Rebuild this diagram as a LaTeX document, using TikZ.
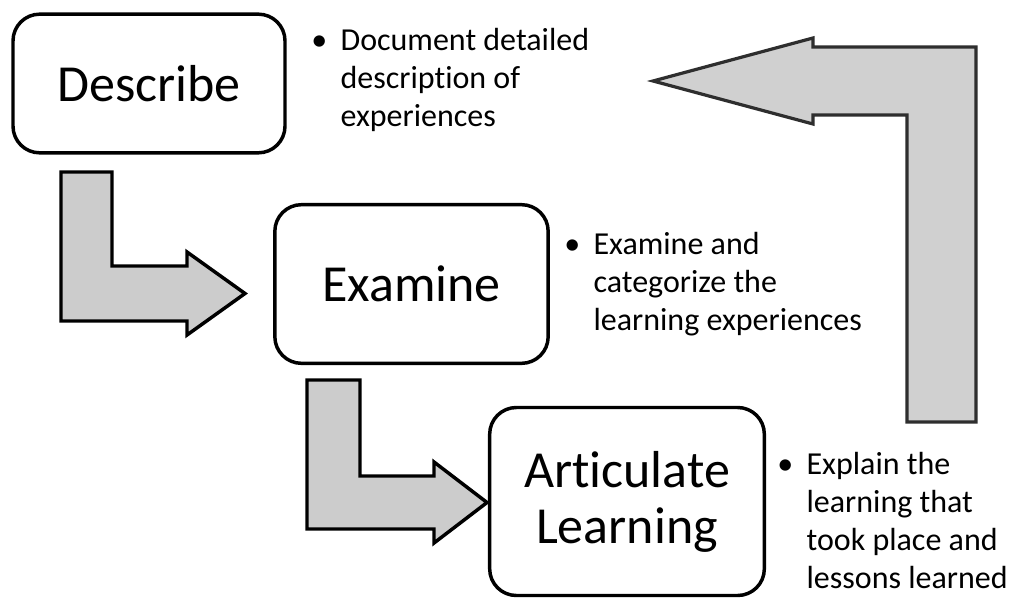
\documentclass[tikz,border=0pt]{standalone}
\usepackage{fontspec}
\setmainfont{Carlito}[Ligatures=NoCommon]
\usepackage{tikz}

\definecolor{bendfill}{HTML}{CCCCCC}
\definecolor{loopfill}{HTML}{D0D0D0}
\definecolor{loopline}{HTML}{2E2E2E}

\newlength{\notehang}
\setlength{\notehang}{22pt}
\newcommand{\notebullet}{\makebox[\notehang][l]{\textbullet}}
\newcommand{\noteskip}{\hspace*{\notehang}}

\tikzset{
  stage/.style={draw=black, line width=2.6pt, rounded corners=20pt, fill=white,
    align=center, inner sep=0pt, font=\fontsize{39}{42}\selectfont},
  % base anchor sits on the last line
  note/.style={align=left, inner sep=0pt, anchor=base west,
    font=\fontsize{24}{28.5}\selectfont},
  bentarrow/.style={draw=black, line width=2.6pt, fill=bendfill},
  loopback/.style={draw=loopline, line width=2.4pt, fill=loopfill}
}

\begin{document}
\begin{tikzpicture}[x=0.75pt,y=-0.75pt]
\useasboundingbox[fill=white] (0,0) rectangle (1012,599);
% Drawing the bent arrows
% Arrow 1: describe -> examine
\draw[bentarrow] (61,172) -- (112,172) -- (112,266) -- (187,266) -- (187,252)
  -- (245,293.5) -- (187,335) -- (187,321) -- (61,321) -- cycle;
% Arrow 2: examine -> articulate
\draw[bentarrow] (307,380) -- (360,380) -- (360,476) -- (434,476) -- (434,462)
  -- (487,502.5) -- (434,543) -- (434,529) -- (307,529) -- cycle;
% Arrow 3: back up to describe
\draw[loopback] (976,422) -- (976,47) -- (813,47) -- (813,38)
  -- (653,81) -- (813,124) -- (813,115) -- (907,115) -- (907,422) -- cycle;
% Done with arrows; drawing stages
\node[stage, minimum width=204pt, minimum height=104pt] (describe) at (149,83.5) {Describe};
\node[stage, minimum width=205pt, minimum height=119pt] (examine) at (411.5,284) {Examine};
\node[stage, minimum width=206pt, minimum height=141pt] (articulate) at (627,501.5) {Articulate\\Learning};
% Done with stages; drawing notes
\node[note] (describe note) at (311,127)
  {\notebullet Document detailed\\\noteskip description of\\\noteskip experiences};
\node[note] (examine note) at (564,330)
  {\notebullet Examine and\\\noteskip categorize the\\\noteskip learning experiences};
\node[note] (articulate note) at (777,588)
  {\notebullet Explain the\\\noteskip learning that\\\noteskip took place and\\\noteskip lessons learned};
% Done with notes
\end{tikzpicture}
\end{document}
